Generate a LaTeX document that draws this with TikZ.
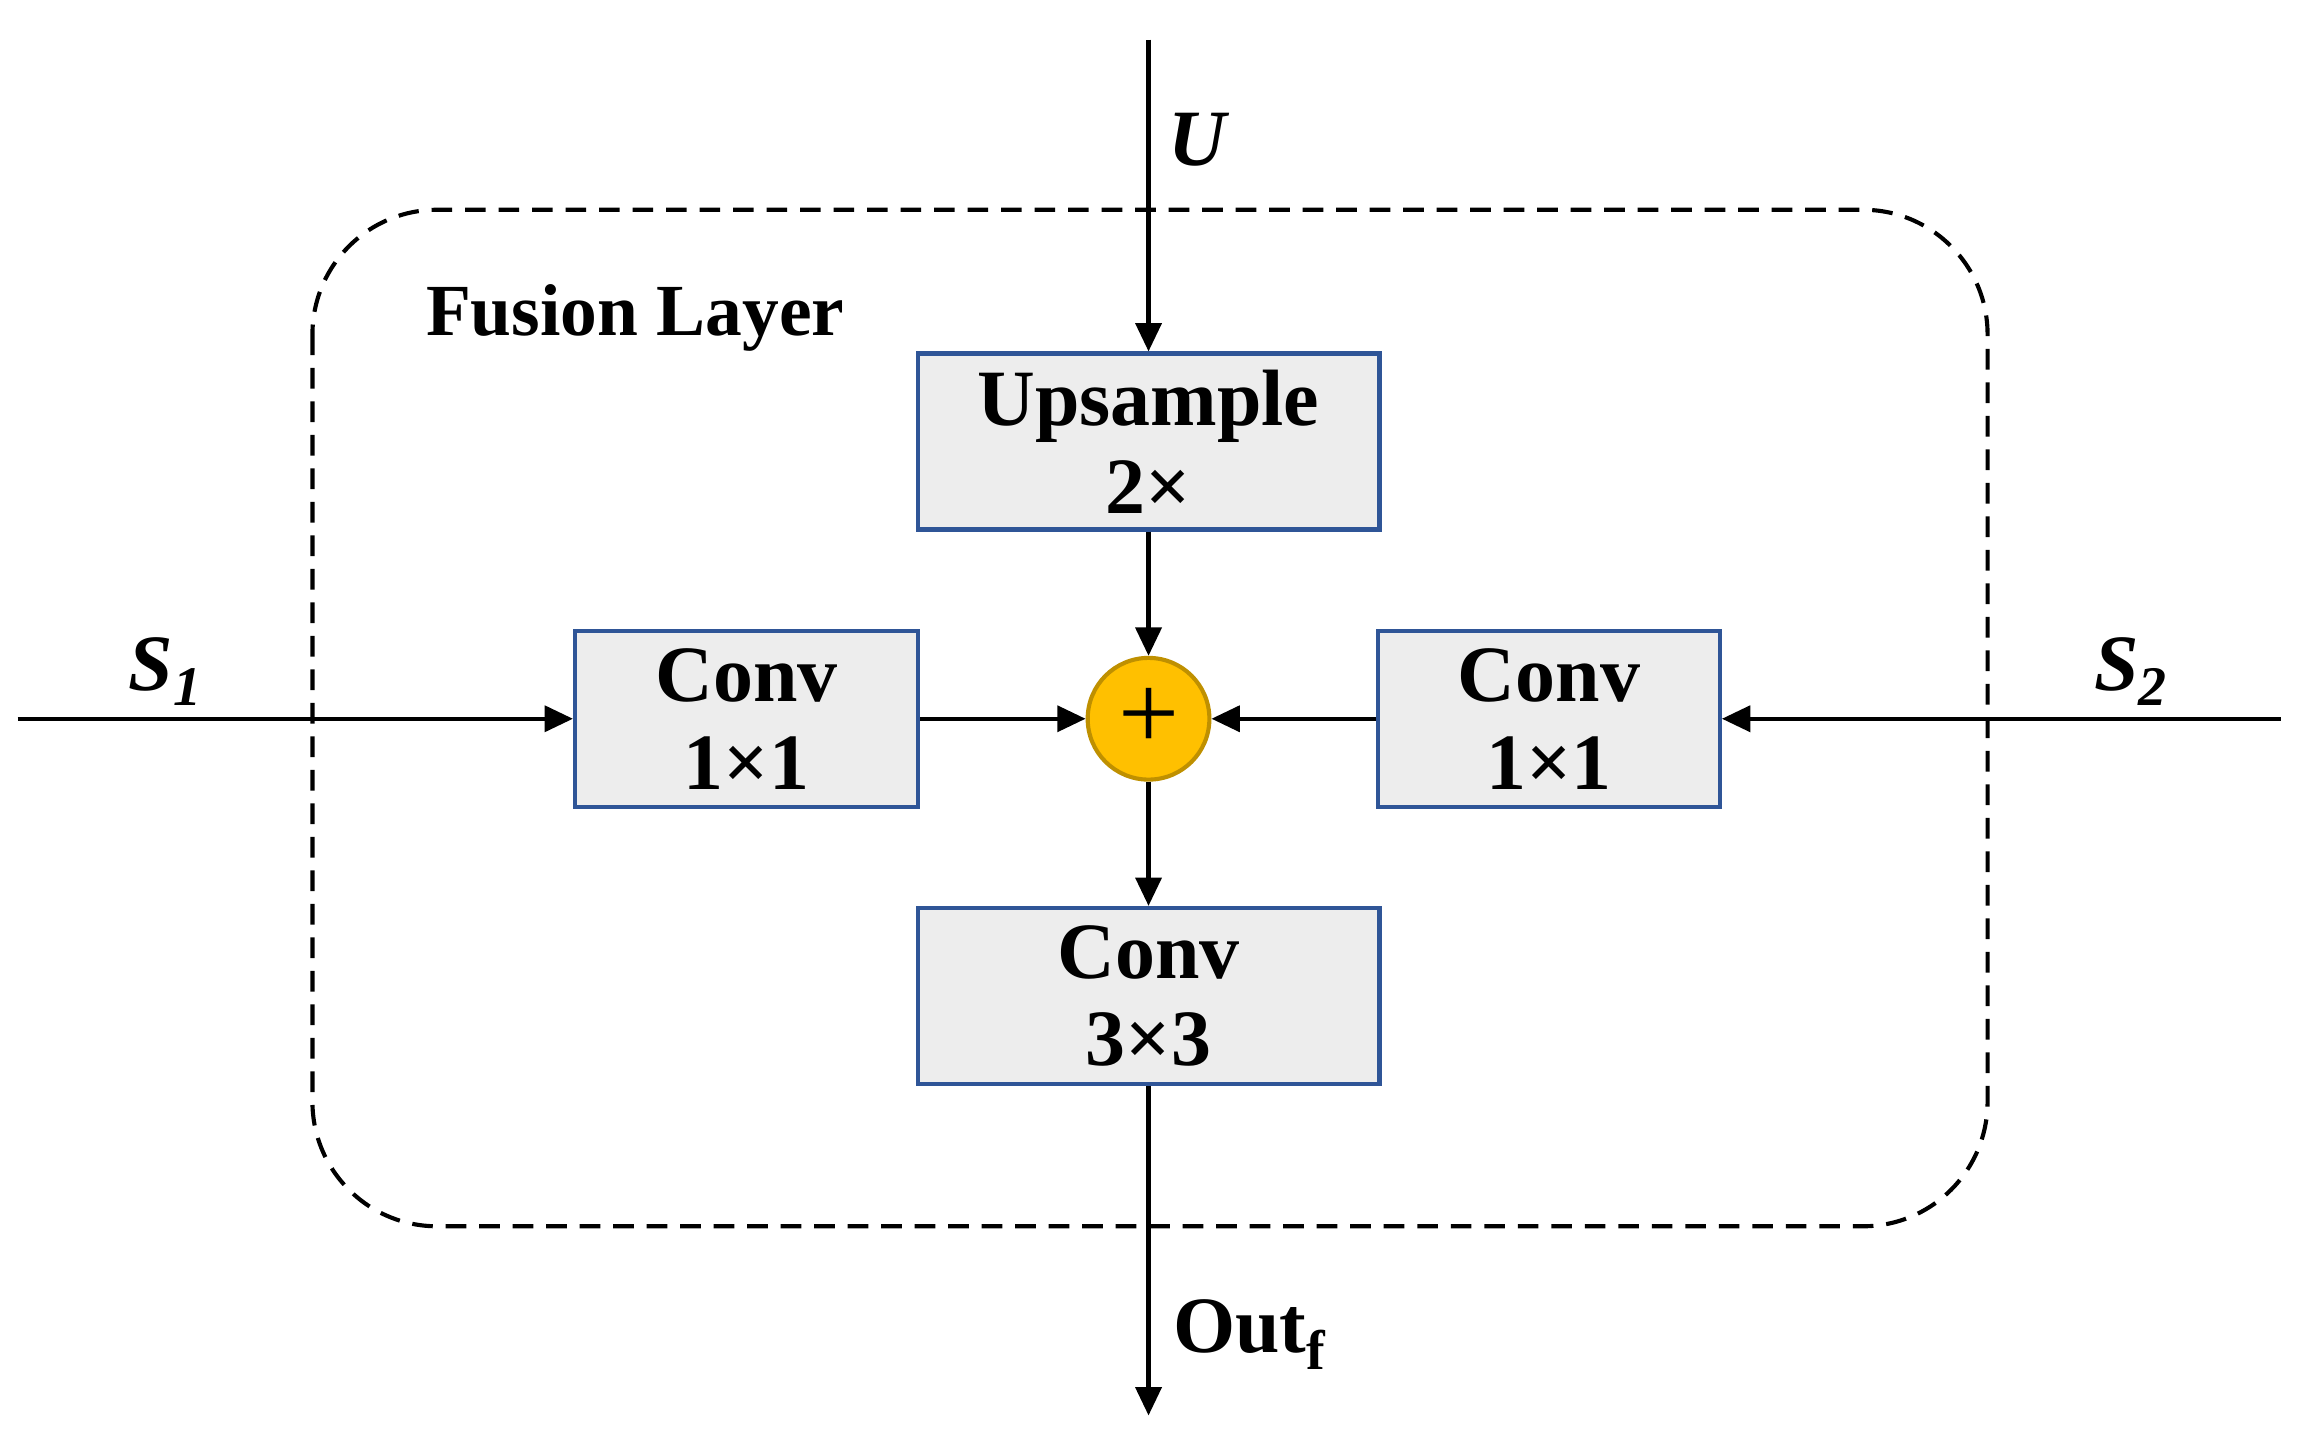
\documentclass[tikz,border=0pt]{standalone}
\usepackage{fontspec}
\setmainfont{Liberation Serif}
\usetikzlibrary{arrows.meta}
\definecolor{boxfill}{HTML}{EDEDED}
\definecolor{boxdraw}{HTML}{2F5597}
\definecolor{sumfill}{HTML}{FFC000}
\definecolor{sumdraw}{HTML}{BF9000}
\begin{document}
\begin{tikzpicture}[x=0.02cm,y=-0.02cm,
  box/.style={draw=boxdraw,fill=boxfill,line width=1.6pt,minimum width=#1,minimum height=2.4cm,inner sep=0pt,align=center,font=\fontsize{31}{36}\selectfont\bfseries},
  arr/.style={line width=1.7pt,-{Triangle[length=11pt,width=10pt]}},
  lbl/.style={font=\fontsize{31}{36}\selectfont\bfseries}]
\useasboundingbox (0,0) rectangle (1568,977);
\draw[line width=1.6pt,dash pattern=on 8pt off 5pt,rounded corners=1.7cm] (213,143) rectangle (1355,836);
\node[lbl,font=\fontsize{28.5}{32}\selectfont\bfseries] (fl) at (433,217) {Fusion Layer};
\node[box=6.3cm] (up) at (783,301) {Upsample\\[-2pt]2×};
\node[box=4.68cm] (cl) at (509,490) {Conv\\[-2pt]1×1};
\node[box=4.66cm] (cr) at (1056,490) {Conv\\[-2pt]1×1};
\node[box=6.3cm] (cb) at (783,679) {Conv\\[-2pt]3×3};
\node[circle,draw=sumdraw,fill=sumfill,line width=1.6pt,minimum size=1.66cm,inner sep=0pt,font=\fontsize{42}{42}\selectfont] (sum) at (783,490) {+};
\coordinate (u) at (783,27);
\coordinate (s1) at (12,490);
\coordinate (s2) at (1555,490);
\coordinate (o) at (783,965);
\draw[arr] (u) -- (up);
\draw[arr] (up) -- (sum);
\draw[arr] (s1) -- (cl);
\draw[arr] (s2) -- (cr);
\draw[arr] (cl) -- (sum);
\draw[arr] (cr) -- (sum);
\draw[arr] (sum) -- (cb);
\draw[arr] (cb) -- (o);
\node[lbl] (ul) at (816,95) {\itshape U};
\node[lbl] (s1l) at (113,458) {\itshape S\textsubscript{1}};
\node[lbl] (s2l) at (1453,458) {\itshape S\textsubscript{2}};
\node[lbl] (ol) at (852,910) {Out\textsubscript{f}};
\end{tikzpicture}
\end{document}
